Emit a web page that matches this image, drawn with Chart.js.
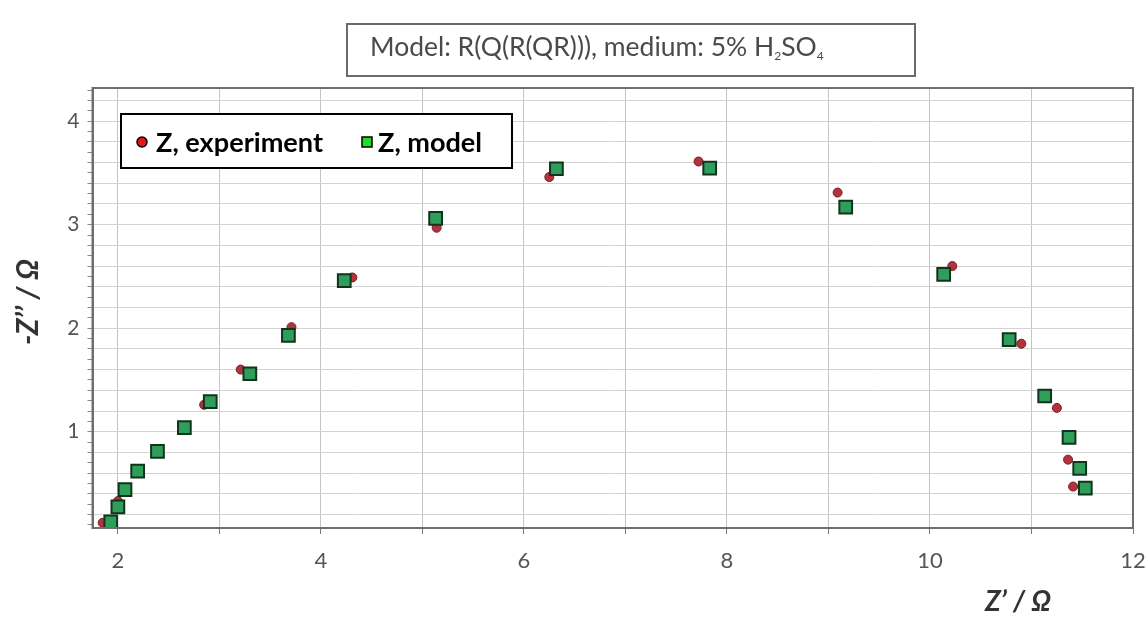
<!DOCTYPE html>
<html>
<head>
<meta charset="utf-8">
<script src="https://cdn.jsdelivr.net/npm/chart.js@4/dist/chart.umd.min.js"></script>
<style>
html,body{margin:0;padding:0;background:#fff;}
#wrap{width:1146px;height:619px;position:relative;}
</style>
</head>
<body>
<div id="wrap"><canvas id="c" width="1146" height="619"></canvas></div>
<script>
// Data (Z' in ohm, -Z'' in ohm)
const expX = [1.85, 2.00, 2.05, 2.18, 2.38, 2.645, 2.85, 3.21, 3.71, 4.31, 5.14, 6.25, 7.72, 9.09, 10.22, 10.90, 11.25, 11.36, 11.41];
const expY = [0.12, 0.33, 0.42, 0.60, 0.80, 1.03, 1.26, 1.60, 2.01, 2.49, 2.97, 3.46, 3.61, 3.31, 2.60, 1.85, 1.23, 0.73, 0.47];
const modelX = [1.93, 2.00, 2.07, 2.195, 2.39, 2.655, 2.91, 3.30, 3.68, 4.23, 5.13, 6.32, 7.83, 9.17, 10.135, 10.78, 11.13, 11.37, 11.475, 11.53];
const modelY = [0.13, 0.275, 0.44, 0.62, 0.81, 1.04, 1.29, 1.56, 1.93, 2.46, 3.06, 3.54, 3.545, 3.17, 2.52, 1.89, 1.345, 0.945, 0.645, 0.455];
const xTickValues = [2, 3, 4, 5, 6, 7, 8, 9, 10, 11, 12];
const xTickLabels = ['2', '', '4', '', '6', '', '8', '', '10', '', '12'];
const yTickLabels = ['1', '2', '3', '4'];
const seriesNames = ['Z, experiment', 'Z, model'];
const titleParts = ['Model: R(Q(R(QR))), medium: 5% H', '2', 'SO', '4'];
const xTitle = 'Z\u2019 / \u03A9';
const yTitle = '-Z\u2019\u2019 / \u03A9';

const expPts = expX.map((x, i) => ({x: x, y: expY[i]}));
const modelPts = modelX.map((x, i) => ({x: x, y: modelY[i]}));

const yTicks = [];
for (let k = 1; k <= 43; k++) yTicks.push(k / 10);

function fitFont(ctx, text, style, family, targetW, base) {
  ctx.font = style + ' ' + base + 'px ' + family;
  const w = ctx.measureText(text).width;
  const size = base * targetW / w;
  return style + ' ' + size.toFixed(2) + 'px ' + family;
}

const decor = {
  id: 'decor',
  afterDraw(chart) {
    const ctx = chart.ctx;
    const a = chart.chartArea;
    ctx.save();
    // plot frame
    ctx.strokeStyle = '#6e6e6e';
    ctx.lineWidth = 2;
    ctx.strokeRect(a.left, a.top, a.right - a.left, a.bottom - a.top);

    // title box
    ctx.fillStyle = '#fff';
    ctx.fillRect(347, 24, 568, 52);
    ctx.strokeStyle = '#6a6a6a';
    ctx.lineWidth = 2;
    ctx.strokeRect(347, 24, 568, 52);
    ctx.fillStyle = '#4a4a4a';
    ctx.textBaseline = 'alphabetic';
    ctx.textAlign = 'left';
    const mainFont = fitFont(ctx, 'Model: R(Q(R(QR))), medium: 5% HSO', 'normal', 'Lato', 440, 19);
    const subSize = 12;
    let x = 370;
    const by = 56;
    ctx.font = mainFont;
    ctx.fillText(titleParts[0], x, by); x += ctx.measureText(titleParts[0]).width;
    ctx.font = 'normal ' + subSize + 'px Lato';
    ctx.fillText(titleParts[1], x, by + 4); x += ctx.measureText(titleParts[1]).width;
    ctx.font = mainFont;
    ctx.fillText(titleParts[2], x, by); x += ctx.measureText(titleParts[2]).width;
    ctx.font = 'normal ' + subSize + 'px Lato';
    ctx.fillText(titleParts[3], x, by + 4);

    // legend box
    ctx.fillStyle = '#fff';
    ctx.fillRect(121, 114, 391, 54);
    ctx.strokeStyle = '#000';
    ctx.lineWidth = 2;
    ctx.strokeRect(121, 114, 391, 54);
    ctx.beginPath();
    ctx.arc(142, 142, 5, 0, Math.PI * 2);
    ctx.fillStyle = '#e8141c';
    ctx.fill();
    ctx.lineWidth = 1.5;
    ctx.strokeStyle = '#000';
    ctx.stroke();
    ctx.fillStyle = '#000';
    ctx.font = fitFont(ctx, seriesNames[0], 'bold', 'Lato', 167, 24);
    ctx.fillText(seriesNames[0], 156, 152);
    ctx.fillStyle = '#22dd22';
    ctx.fillRect(362, 137, 10, 10);
    ctx.strokeStyle = '#000';
    ctx.strokeRect(362, 137, 10, 10);
    ctx.fillStyle = '#000';
    ctx.font = fitFont(ctx, seriesNames[1], 'bold', 'Lato', 104, 24);
    ctx.fillText(seriesNames[1], 378, 152);

    // axis titles
    ctx.fillStyle = '#333';
    ctx.font = fitFont(ctx, xTitle, 'italic bold', 'Lato', 66, 22);
    ctx.textAlign = 'center';
    ctx.fillText(xTitle, 1018, 611);
    ctx.save();
    ctx.translate(38, 302);
    ctx.rotate(-Math.PI / 2);
    ctx.font = fitFont(ctx, yTitle, 'italic bold', 'Lato', 86, 22);
    ctx.fillText(yTitle, 0, 0);
    ctx.restore();
    ctx.restore();
  }
};

new Chart(document.getElementById('c'), {
  type: 'scatter',
  data: {
    datasets: [
      {
        label: seriesNames[0],
        data: expPts,
        order: 2,
        pointStyle: 'circle',
        pointRadius: 4.5,
        backgroundColor: '#b2323e',
        borderColor: '#7a1c26',
        borderWidth: 1
      },
      {
        label: seriesNames[1],
        data: modelPts,
        order: 1,
        pointStyle: 'rect',
        pointRadius: 9,
        backgroundColor: '#2f9e5a',
        borderColor: '#12331c',
        borderWidth: 2
      }
    ]
  },
  options: {
    responsive: false,
    animation: false,
    events: [],
    layout: {padding: {left: 0, right: 13, top: 88, bottom: 0}},
    plugins: {legend: {display: false}, tooltip: {enabled: false}, title: {display: false}},
    scales: {
      x: {
        type: 'linear',
        min: 1.75,
        max: 12,
        afterBuildTicks(scale) { scale.ticks = xTickValues.map(v => ({value: v})); },
        afterFit(scale) { scale.height = 91; scale.paddingLeft = 0; scale.paddingRight = 0; },
        ticks: {
          autoSkip: false,
          maxRotation: 0,
          padding: 14,
          color: '#555',
          font: {family: 'Lato', size: 22},
          callback(value, index) { return xTickLabels[index]; }
        },
        grid: {color: '#c4c4c4', lineWidth: 1, tickLength: 6, tickColor: '#777'},
        border: {color: '#6e6e6e', width: 2}
      },
      y: {
        type: 'linear',
        min: 0.07,
        max: 4.32,
        afterBuildTicks(scale) { scale.ticks = yTicks.map(v => ({value: v})); },
        afterFit(scale) { scale.width = 92.5; scale.paddingTop = 0; scale.paddingBottom = 0; },
        ticks: {
          autoSkip: false,
          padding: 8,
          color: '#555',
          font: {family: 'Lato', size: 21},
          callback(value) {
            const r = Math.round(value * 10);
            if (r % 10 === 0) { return yTickLabels[r / 10 - 1] || ''; }
            return '';
          }
        },
        grid: {
          color(ctx) {
            const v = ctx.tick ? Math.round(ctx.tick.value * 10) : 1;
            return v % 2 === 0 ? '#d3d3d3' : 'rgba(0,0,0,0)';
          },
          lineWidth: 1,
          tickLength: 5,
          tickColor: '#8a8a8a'
        },
        border: {color: '#6e6e6e', width: 2}
      }
    }
  },
  plugins: [decor]
});
</script>
</body>
</html>
